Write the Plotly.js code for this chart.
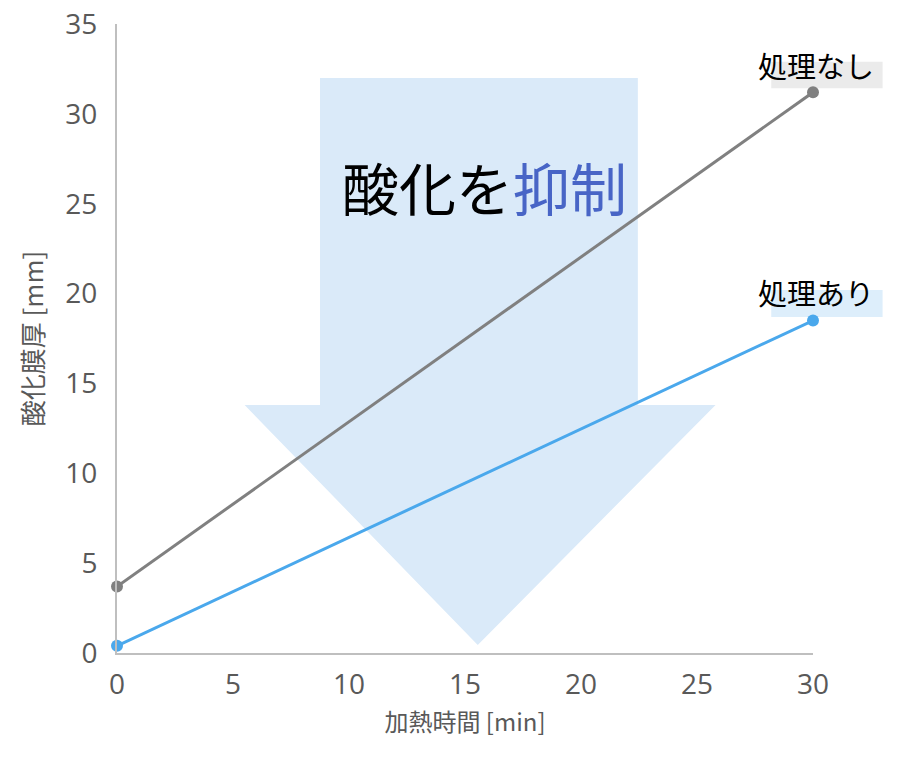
<!DOCTYPE html>
<html>
<head>
<meta charset="utf-8">
<script src="https://cdn.plot.ly/plotly-3.0.1.min.js"></script>
<style>
  html, body { margin: 0; padding: 0; background: #fff; }
  #chart { width: 900px; height: 770px; }
</style>
</head>
<body>
<div id="chart"></div>
<script>
// heating time [min]
const time = [0, 30];
// oxide film thickness [mm]
const untreated = [3.7, 31.2];
const treated = [0.4, 18.5];
const seriesNames = ["処理なし", "処理あり"];
const xTicks = [0, 5, 10, 15, 20, 25, 30];
const yTicks = [0, 5, 10, 15, 20, 25, 30, 35];

// big arrow outline (data units)
const arrowX = [8.75, 22.45, 22.45, 25.8, 15.55, 5.5, 8.75];
const arrowY = [32.0, 32.0, 13.8, 13.8, 0.45, 13.8, 13.8];

const tickFont = { family: "Open Sans, Noto Sans CJK JP, sans-serif", size: 28, color: "#595959" };
const jp = "Noto Sans CJK JP, sans-serif";

let arrowPath = "M" + arrowX.map((x, i) => x + "," + arrowY[i]).join(" L") + " Z";

var traces = [
  {
    x: time, y: untreated, name: seriesNames[0],
    type: "scatter", mode: "lines+markers",
    line: { color: "#808080", width: 3 },
    marker: { color: "#808080", size: 12 },
    cliponaxis: false
  },
  {
    x: time, y: treated, name: seriesNames[1],
    type: "scatter", mode: "lines+markers",
    line: { color: "#4aa8ec", width: 3 },
    marker: { color: "#4aa8ec", size: 12 },
    cliponaxis: false
  }
];

var layout = {
  width: 900, height: 770,
  margin: { l: 117, r: 87, t: 24, b: 117 },
  paper_bgcolor: "#fff", plot_bgcolor: "#fff",
  showlegend: false,
  xaxis: {
    range: [0, 30], tickvals: xTicks, ticks: "",
    showgrid: false, zeroline: false,
    showline: true, linecolor: "#bfbfbf", linewidth: 2,
    tickfont: tickFont, ticklabelstandoff: 5,
    title: { text: "加熱時間 [min]", font: { family: jp, size: 24, color: "#595959" }, standoff: 14 }
  },
  yaxis: {
    range: [0, 35], tickvals: yTicks, ticks: "",
    showgrid: false, zeroline: false,
    showline: true, linecolor: "#bfbfbf", linewidth: 2,
    tickfont: tickFont, ticklabelstandoff: 12,
    title: { text: "酸化膜厚 [mm]", font: { family: jp, size: 26, color: "#595959" }, standoff: 14 }
  },
  shapes: [
    { type: "path", xref: "x", yref: "y", path: arrowPath,
      fillcolor: "#daeaf9", line: { width: 0 }, layer: "below" },
    { type: "rect", xref: "paper", yref: "paper", x0: 0.94, x1: 1.10, y0: 0.898, y1: 0.94,
      fillcolor: "#ebebeb", line: { width: 0 }, layer: "below" },
    { type: "rect", xref: "paper", yref: "paper", x0: 0.94, x1: 1.10, y0: 0.534, y1: 0.577,
      fillcolor: "#ddeefb", line: { width: 0 }, layer: "below" }
  ],
  annotations: [
    { x: 1.005, y: 0.935, xref: "paper", yref: "paper", xanchor: "center", yanchor: "middle",
      text: seriesNames[0], showarrow: false,
      font: { family: jp, size: 29, color: "#000" } },
    { x: 1.005, y: 0.574, xref: "paper", yref: "paper", xanchor: "center", yanchor: "middle",
      text: seriesNames[1], showarrow: false,
      font: { family: jp, size: 29, color: "#000" } },
    { x: 15.85, y: 26.0, xref: "x", yref: "y", showarrow: false,
      text: "酸化を<span style='color:#4865c6'>抑制</span>",
      font: { family: jp, size: 57, color: "#000" } }
  ]
};

Plotly.newPlot("chart", traces, layout, { staticPlot: true });
</script>
</body>
</html>
